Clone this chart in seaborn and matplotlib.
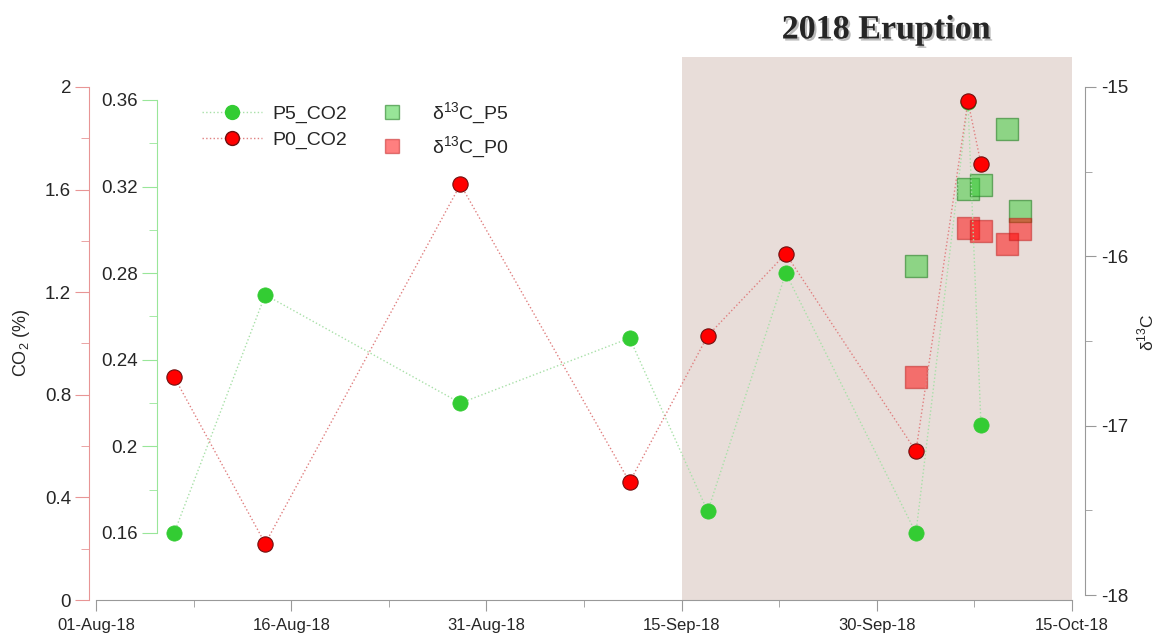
import pandas as pd
import numpy as np
import matplotlib
matplotlib.use("Agg")
import matplotlib.pyplot as plt
import matplotlib.dates as mdates
import matplotlib.patheffects as pe
from matplotlib.lines import Line2D
from matplotlib.ticker import FuncFormatter
import seaborn as sns

# CO2 samples (P5 on the green axis, P0 on the red axis)
co2_dates = ["2018-08-07", "2018-08-14", "2018-08-29", "2018-09-11", "2018-09-17",
             "2018-09-23", "2018-10-03", "2018-10-07", "2018-10-08"]
p5_co2 = [0.160, 0.270, 0.220, 0.250, 0.170, 0.280, 0.160, 0.359, 0.210]
p0_co2 = [0.87, 0.22, 1.62, 0.46, 1.03, 1.35, 0.58, 1.945, 1.70]

# delta 13C samples (right axis)
d13c_dates = ["2018-10-03", "2018-10-07", "2018-10-08", "2018-10-10", "2018-10-11"]
d13c_p5 = [-16.06, -15.60, -15.58, -15.25, -15.73]
d13c_p0 = [-16.71, -15.83, -15.85, -15.93, -15.84]

tick_dates = ["2018-08-01", "2018-08-16", "2018-08-31", "2018-09-15", "2018-09-30", "2018-10-15"]
eruption = ("2018-09-15", "2018-10-15")

sns.set_style("ticks")
plt.rcParams["font.family"] = ["Liberation Sans", "DejaVu Sans"]
plt.rcParams["mathtext.fontset"] = "custom"
plt.rcParams["mathtext.rm"] = "Liberation Sans"

green = "#33cc33"
green_line = "#a8e0a8"
red = "#ff0000"
red_line = "#e08080"
gray = "#999999"
fs = 13.5

co2_x = pd.to_datetime(co2_dates)
d13c_x = pd.to_datetime(d13c_dates)
ticks = pd.to_datetime(tick_dates)

fig = plt.figure(figsize=(11.6, 6.36), dpi=100)
ax = fig.add_axes([0.0828, 0.0566, 0.8414, 0.8538])
ax_g = ax.twinx()
ax_p = ax.twinx()

# host axes: shading, delta13C squares, right axis
ax.axvspan(pd.Timestamp(eruption[0]), pd.Timestamp(eruption[1]), color="#e8ddd9", lw=0, zorder=0)
sns.scatterplot(x=d13c_x, y=d13c_p5, ax=ax, marker="s", s=250, color=(0.2, 0.8, 0.2, 0.5),
                edgecolor=(0.15, 0.5, 0.15, 0.6), linewidth=1, zorder=3)
sns.scatterplot(x=d13c_x, y=d13c_p0, ax=ax, marker="s", s=250, color=(1.0, 0.0, 0.0, 0.5),
                edgecolor=(0.75, 0.1, 0.1, 0.5), linewidth=1, zorder=3)

# CO2 lines
sns.lineplot(x=co2_x, y=p5_co2, ax=ax_g, color=green_line, linestyle=":", linewidth=1,
             marker="o", markersize=11, markerfacecolor=green, markeredgecolor=green,
             markeredgewidth=0.5)
sns.lineplot(x=co2_x, y=p0_co2, ax=ax_p, color=red_line, linestyle=":", linewidth=1,
             marker="o", markersize=11, markerfacecolor=red, markeredgecolor="#701010",
             markeredgewidth=0.8)

ax.set_xlim(ticks[0], ticks[-1])
ax.set_xticks(ticks)
ax.set_xticks(ticks[:-1] + pd.Timedelta(hours=180), minor=True)
ax.xaxis.set_major_formatter(mdates.DateFormatter("%d-%b-%y"))
ax.tick_params(axis="x", which="major", length=8, color=gray, labelsize=12, pad=5)
ax.tick_params(axis="x", which="minor", length=5, color=gray)
ax.spines["bottom"].set_color(gray)

fmt = FuncFormatter(lambda v, p: f"{v:g}")

# right axis
ax.yaxis.tick_right()
ax.yaxis.set_label_position("right")
ax.set_ylim(-18.0295, -14.823)
ax.set_yticks([-18, -17, -16, -15])
ax.set_yticks([-17.5, -16.5, -15.5], minor=True)
ax.yaxis.set_major_formatter(fmt)
ax.tick_params(axis="y", which="major", length=8, color=gray, labelsize=fs)
ax.tick_params(axis="y", which="minor", length=5, color=gray)
for s in ["left", "top"]:
    ax.spines[s].set_visible(False)
ax.spines["right"].set_visible(True)
ax.spines["right"].set_position(("outward", 9.4))
ax.spines["right"].set_bounds(-18, -15)
ax.spines["right"].set_color(gray)
ax.set_ylabel("")
ax.set_xlabel("")

# green axis (P5)
ax_g.set_ylim(0.12905, 0.37986)
ax_g.yaxis.tick_left()
ax_g.set_yticks([0.16, 0.20, 0.24, 0.28, 0.32, 0.36])
ax_g.set_yticks([0.18, 0.22, 0.26, 0.30, 0.34], minor=True)
ax_g.yaxis.set_major_formatter(fmt)
for s in ["right", "top", "bottom"]:
    ax_g.spines[s].set_visible(False)
ax_g.spines["left"].set_visible(True)
ax_g.spines["left"].set_position(("axes", 0.0625))
ax_g.spines["left"].set_bounds(0.16, 0.36)
ax_g.spines["left"].set_color("#99e699")
ax_g.tick_params(axis="y", which="major", length=11, color="#99e699", labelsize=fs, pad=3)
ax_g.tick_params(axis="y", which="minor", length=5.5, color="#99e699")
ax_g.set_ylabel("")

# red axis (P0)
ax_p.set_ylim(0, 2.117)
ax_p.yaxis.tick_left()
ax_p.set_yticks([0, 0.4, 0.8, 1.2, 1.6, 2.0])
ax_p.set_yticks([0.2, 0.6, 1.0, 1.4, 1.8], minor=True)
ax_p.yaxis.set_major_formatter(fmt)
for s in ["right", "top", "bottom"]:
    ax_p.spines[s].set_visible(False)
ax_p.spines["left"].set_visible(True)
ax_p.spines["left"].set_position(("outward", 5))
ax_p.spines["left"].set_bounds(0, 2)
ax_p.spines["left"].set_color("#e89595")
ax_p.tick_params(axis="y", which="major", length=10, color="#e89595", labelsize=fs, pad=3)
ax_p.tick_params(axis="y", which="minor", length=5.5, color="#e89595")
ax_p.set_ylabel("")

fig.text(22 / 1160, 1 - 343 / 636, "CO$_2$ (%)", rotation=90, ha="center", va="center", fontsize=13)
fig.text(1146 / 1160, 1 - 332 / 636, "δ$^{13}$C", rotation=90, ha="center", va="center", fontsize=12.5)
fig.text(886 / 1160, 1 - 30 / 636, "2018 Eruption", family="Liberation Serif",
         fontweight="bold", fontsize=24.5, ha="center", va="center",
         path_effects=[pe.withSimplePatchShadow(offset=(1.5, -1.5), shadow_rgbFace="#777777", alpha=0.5)])

handles = [
    Line2D([], [], color=green_line, ls=":", lw=1, marker="o", ms=10, mfc=green, mec=green),
    Line2D([], [], color=red_line, ls=":", lw=1, marker="o", ms=10, mfc=red, mec="#701010"),
    Line2D([], [], ls="none", marker="s", ms=10, mfc=(0.2, 0.8, 0.2, 0.5), mec=(0.15, 0.5, 0.15, 0.6)),
    Line2D([], [], ls="none", marker="s", ms=10, mfc=(1.0, 0.0, 0.0, 0.5), mec=(0.75, 0.1, 0.1, 0.5)),
]
labels = ["P5_CO2", "P0_CO2", "δ$^{13}$C_P5", "δ$^{13}$C_P0"]
ax_p.legend(handles, labels, ncol=2, frameon=False, loc="upper left",
            bbox_to_anchor=(202 / 1160, 1 - 100 / 636), bbox_transform=fig.transFigure,
            borderpad=0, borderaxespad=0, handlelength=3.1, handletextpad=0.5,
            columnspacing=0.8, labelspacing=0.4, fontsize=14)

fig.savefig("out.png", dpi=100)
